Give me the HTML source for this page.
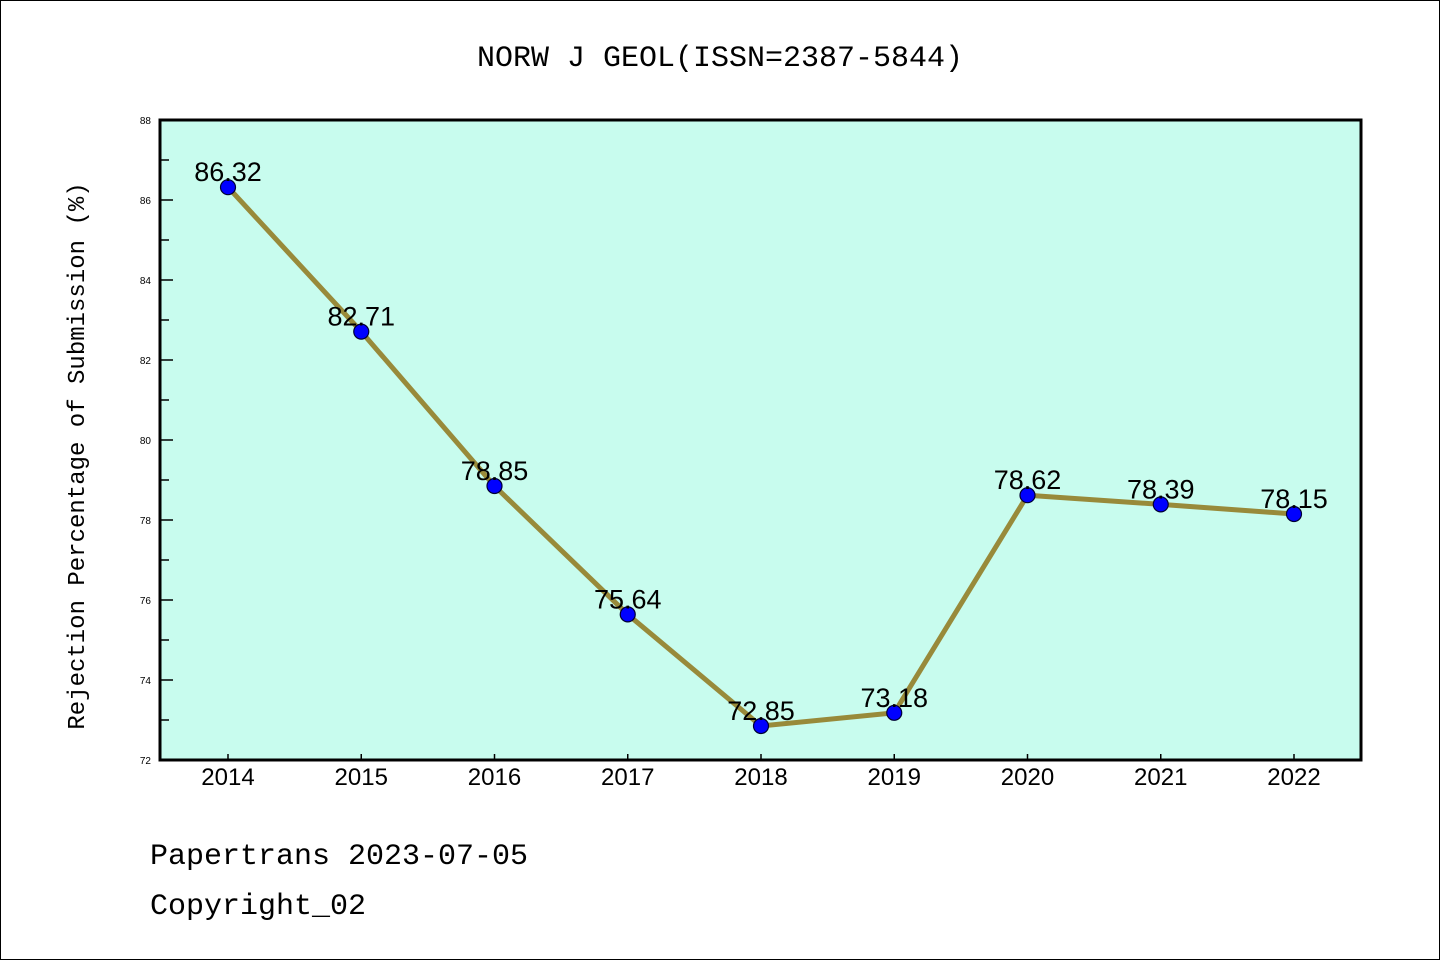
<!DOCTYPE html>
<html><head><meta charset="utf-8"><style>
body{margin:0;background:#fff}
svg{display:block}
</style></head><body>
<svg id="chart" width="1440" height="960" xmlns="http://www.w3.org/2000/svg">
<rect x="0.5" y="0.5" width="1439" height="959" fill="#fff" stroke="#000" stroke-width="1"/>
<text x="720" y="66" text-anchor="middle" font-family="Liberation Mono, monospace" font-size="30" fill="#000">NORW J GEOL(ISSN=2387-5844)</text>
<rect x="160" y="120" width="1201" height="640" fill="#c8fcee"/>
<g id="axes"></g>
<g id="series"></g>
<rect x="160" y="120" width="1201" height="640" fill="none" stroke="#000" stroke-width="3"/>
<text transform="translate(84,456) rotate(-90)" text-anchor="middle" font-family="Liberation Mono, monospace" font-size="24" fill="#000">Rejection Percentage of Submission (%)</text>
<text x="150" y="864" font-family="Liberation Mono, monospace" font-size="30" fill="#000">Papertrans 2023-07-05</text>
<text x="150" y="914" font-family="Liberation Mono, monospace" font-size="30" fill="#000">Copyright_02</text>
</svg>
<script>
const years = [2014,2015,2016,2017,2018,2019,2020,2021,2022];
const values = [86.32,82.71,78.85,75.64,72.85,73.18,78.62,78.39,78.15];
const yTicks = [72,74,76,78,80,82,84,86,88];
const NS="http://www.w3.org/2000/svg";
const x0=228,xStep=133.25, yMin=72,yMax=88, plotTop=120,plotBottom=760;
function xs(i){return x0+i*xStep;}
function ys(v){return plotBottom-(v-yMin)/(yMax-yMin)*(plotBottom-plotTop);}
function mk(tag,attrs,parent){const e=document.createElementNS(NS,tag);for(const k in attrs)e.setAttribute(k,attrs[k]);parent.appendChild(e);return e;}
const axes=document.getElementById('axes'), series=document.getElementById('series');
for(let v=yMin; v<=yMax; v++){
  const major=(v%2===0);
  const t=mk('line',{x1:160,x2:major?173:169,y1:ys(v),y2:ys(v),stroke:'#000','stroke-width':1.5},axes);
  
  
}
yTicks.forEach(v=>{
  const t=mk('text',{x:151,y:ys(v)+4,'text-anchor':'end','font-family':'Liberation Sans, sans-serif','font-size':10,fill:'#000'},axes);
  t.textContent=v;
  
  
});
years.forEach((yr,i)=>{
  const t=mk('line',{x1:xs(i),x2:xs(i),y1:760,y2:754,stroke:'#000','stroke-width':1.5},axes);
  
  
  const l=mk('text',{x:xs(i),y:785,'text-anchor':'middle','font-family':'Liberation Sans, sans-serif','font-size':24,fill:'#000'},axes);
  l.textContent=yr;
  
  
});
const pts=values.map((v,i)=>xs(i)+','+ys(v)).join(' ');
const line=mk('polyline',{points:pts,fill:'none',stroke:'#988a3a','stroke-width':5,'stroke-linejoin':'round'},series);


values.forEach((v,i)=>{
  const c=mk('circle',{cx:xs(i),cy:ys(v),r:7.5,fill:'#0000ff',stroke:'#000033','stroke-width':1.2},series);
  
  
  const t=mk('text',{x:xs(i),y:ys(v)-6,'text-anchor':'middle','font-family':'Liberation Sans, sans-serif','font-size':27,fill:'#000'},series);
  t.textContent=v.toFixed(2);
  
  
});
</script>
</body></html>
